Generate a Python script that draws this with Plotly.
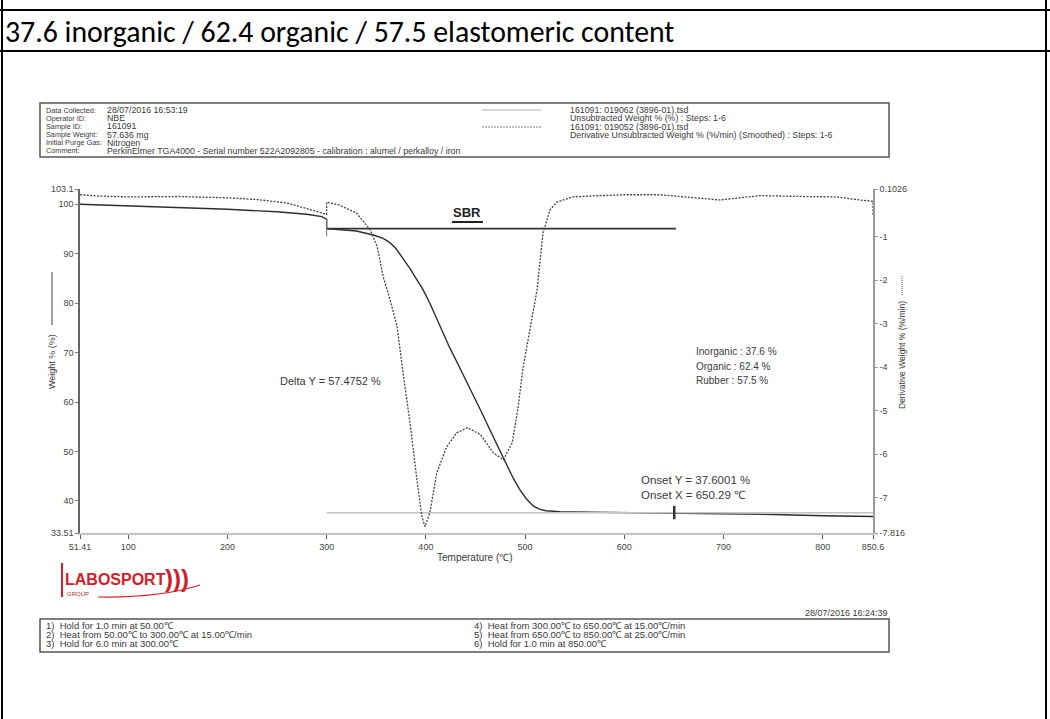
import plotly.graph_objects as go

W, H = 1050, 719

# ---------------- data ----------------
temp_w = [51.41, 100, 150, 200, 250, 280, 295, 300, 300, 310, 330, 347, 357, 364, 370, 377, 384,
          391, 397, 404, 410, 417, 424, 432, 440, 448, 456, 464, 472, 480, 488, 495, 501, 508,
          515, 521, 535, 550, 570, 600, 650, 700, 750, 800, 850.6]
weight = [100.0, 99.7, 99.4, 99.0, 98.5, 98.0, 97.5, 97.0, 95.1, 94.95, 94.6, 93.8, 93.1, 92.2,
          91.0, 89.0, 87.0, 84.7, 82.8, 80.0, 77.2, 74.0, 71.0, 67.8, 64.6, 61.3, 58.0, 54.6,
          51.2, 47.8, 44.6, 42.2, 40.5, 39.0, 38.3, 38.0, 37.8, 37.75, 37.7, 37.65, 37.6, 37.45,
          37.25, 37.0, 36.85]

temp_d = [51.41, 70, 100, 150, 200, 230, 260, 280, 295, 300, 300, 313, 330, 344, 351, 357, 364,
          371, 377, 384, 391, 396, 399, 404, 411, 421, 431, 442, 455, 468, 478, 487, 493, 498,
          503, 512, 518, 525, 532, 548, 565, 600, 636, 669, 696, 716, 737, 780, 814, 837, 850.6,
          850.6]
deriv = [-0.03, -0.06, -0.08, -0.07, -0.10, -0.14, -0.22, -0.35, -0.45, -0.48, -0.20, -0.27,
         -0.45, -0.84, -1.23, -1.92, -2.45, -3.07, -4.13, -5.28, -6.60, -7.44, -7.67, -7.35,
         -6.43, -5.83, -5.51, -5.39, -5.55, -5.97, -6.13, -5.74, -4.91, -3.99, -3.37, -2.22,
         -0.91, -0.38, -0.20, -0.08, -0.06, -0.03, -0.03, -0.10, -0.15, -0.10, -0.05, -0.07,
         -0.08, -0.15, -0.18, -0.50]

delta_T = [300, 652]
delta_W = [95.08, 95.08]
base_T = [300, 850.6]
base_W = [37.6, 37.6]
step_mark_T = [300, 300]
step_mark_W = [97.0, 93.5]
onset_T = [650.29, 650.29]
onset_W = [39.0, 36.3]

x_ticks = [51.41, 100, 200, 300, 400, 500, 600, 700, 800, 850.6]
x_tick_text = ["51.41", "100", "200", "300", "400", "500", "600", "700", "800", "850.6"]
y_ticks = [33.51, 40, 50, 60, 70, 80, 90, 100, 103.1]
y_tick_text = ["33.51", "40", "50", "60", "70", "80", "90", "100", "103.1"]
y2_ticks = [-7.816, -7, -6, -5, -4, -3, -2, -1, 0.1026]
y2_tick_text = ["-7.816", "-7", "-6", "-5", "-4", "-3", "-2", "-1", "0.1026"]

title_text = "37.6 inorganic / 62.4 organic / 57.5 elastomeric content"
header_labels = ["Data Collected:", "Operator ID:", "Sample ID:", "Sample Weight:",
                 "Initial Purge Gas:", "Comment:"]
header_values = ["28/07/2016 16:53:19", "NBE", "161091", "57.636 mg", "Nitrogen",
                 "PerkinElmer TGA4000 - Serial number 522A2092805 - calibration : alumel / perkalloy / iron"]
legend_texts = ["161091: 019062 (3896-01).tsd", "Unsubtracted Weight % (%) : Steps: 1-6",
                "161091: 019052 (3896-01).tsd",
                "Derivative Unsubtracted Weight % (%/min) (Smoothed) : Steps: 1-6"]
results = ["Inorganic : 37.6 %", "Organic : 62.4 %", "Rubber : 57.5 %"]
onset_lines = ["Onset Y = 37.6001 %", "Onset X = 650.29 \u2103"]
steps_left = ["1)  Hold for 1.0 min at 50.00\u2103",
              "2)  Heat from 50.00\u2103 to 300.00\u2103 at 15.00\u2103/min",
              "3)  Hold for 6.0 min at 300.00\u2103"]
steps_right = ["4)  Heat from 300.00\u2103 to 650.00\u2103 at 15.00\u2103/min",
               "5)  Heat from 650.00\u2103 to 850.00\u2103 at 25.00\u2103/min",
               "6)  Hold for 1.0 min at 850.00\u2103"]

# ---------------- helpers ----------------
def fx(p):
    return p / W

def fy(p):
    return 1 - p / H

FONT = "Liberation Sans, Arial, sans-serif"
TXT = "#3a3a3a"

fig = go.Figure()

fig.add_trace(go.Scatter(x=temp_w, y=weight, mode="lines",
                         line=dict(color="#2e2e2e", width=1.4), yaxis="y", hoverinfo="skip"))
fig.add_trace(go.Scatter(x=temp_d, y=deriv, mode="lines",
                         line=dict(color="#444444", width=1.3, dash="2px,1.4px"),
                         yaxis="y2", hoverinfo="skip"))
fig.add_trace(go.Scatter(x=delta_T, y=delta_W, mode="lines",
                         line=dict(color="#333333", width=1.6), yaxis="y", hoverinfo="skip"))
fig.add_trace(go.Scatter(x=base_T, y=base_W, mode="lines",
                         line=dict(color="#c4c4c4", width=1.6), yaxis="y", hoverinfo="skip"))
fig.add_trace(go.Scatter(x=step_mark_T, y=step_mark_W, mode="lines",
                         line=dict(color="#777777", width=1), yaxis="y", hoverinfo="skip"))
fig.add_trace(go.Scatter(x=onset_T, y=onset_W, mode="lines",
                         line=dict(color="#333333", width=2.5), yaxis="y", hoverinfo="skip"))

tickfont = dict(family=FONT, size=9, color="#444444")
fig.update_layout(
    autosize=True, margin=dict(l=0, r=0, t=0, b=0, autoexpand=False),
    paper_bgcolor="white", plot_bgcolor="white", showlegend=False,
    xaxis=dict(domain=[fx(80), fx(873)], range=[51.41, 850.6], tickvals=x_ticks,
               ticktext=x_tick_text, showgrid=False, zeroline=False, showline=True,
               linecolor="#c2c2c2", linewidth=1.5, ticks="outside", ticklen=4,
               tickcolor="#555555", tickfont=tickfont, anchor="y"),
    yaxis=dict(domain=[fy(533), fy(189)], range=[33.51, 103.1], tickvals=y_ticks,
               ticktext=y_tick_text, showgrid=False, zeroline=False, showline=True,
               linecolor="#666666", linewidth=1.5, ticks="outside", ticklen=3,
               tickcolor="#777777", tickfont=tickfont, anchor="x"),
    yaxis2=dict(range=[-7.816, 0.1026], overlaying="y", side="right", tickvals=y2_ticks,
                ticktext=y2_tick_text, showgrid=False, zeroline=False, showline=True,
                linecolor="#9a9a9a", linewidth=1.5, ticks="outside", ticklen=3,
                tickcolor="#999999", tickfont=tickfont, anchor="x"),
)

ann = []
shapes = []

def text(x, y, s, size=9, anchor="left", color=TXT, family=FONT, angle=0, valign="middle"):
    ann.append(dict(x=fx(x), y=fy(y), xref="paper", yref="paper", text=s, showarrow=False,
                    xanchor=anchor, yanchor=valign, textangle=angle, borderpad=0,
                    align="left", font=dict(family=family, size=size, color=color)))

def line(x0, y0, x1, y1, color="#000", width=1, dash=None):
    d = dict(type="line", xref="paper", yref="paper", x0=fx(x0), y0=fy(y0), x1=fx(x1),
             y1=fy(y1), line=dict(color=color, width=width))
    if dash:
        d["line"]["dash"] = dash
    shapes.append(d)

# document frame
line(0, 10, 1050, 10, "#000", 2)
line(0, 51, 1050, 51, "#000", 2)
line(2, 0, 2, 719, "#000", 2)
line(1046, 0, 1046, 719, "#000", 2)
text(4, 32, title_text, size=29.8, family="Calibri, Carlito, Lato, sans-serif", color="#000")

# header box
shapes.append(dict(type="rect", xref="paper", yref="paper", x0=fx(40), y0=fy(157), x1=fx(889),
                   y1=fy(103), line=dict(color="#555", width=1.5)))
for i, (lab, val) in enumerate(zip(header_labels, header_values)):
    yy = 110 + 8.2 * i
    text(45, yy, lab, size=7.3)
    text(106, yy, val, size=8.8)
line(482, 110, 541, 110, "#b0b0b0", 1.2)
line(482, 127, 541, 127, "#808080", 1.2, dash="2px,1px")
for i, s in enumerate(legend_texts):
    text(569, 110 + 8.4 * i, s, size=8.8)

# axis titles
text(475, 557, "Temperature (\u2103)", size=10, anchor="center")
text(52, 362, "Weight % (%)", size=9, anchor="center", angle=-90)
line(52, 272, 52, 325, "#444", 1)
text(902, 355, "Derivative Weight % (%/min)", size=8.5, anchor="center", angle=-90)
line(902, 276, 902, 296, "#555", 1, dash="1px,1px")

# chart annotations
text(467, 213, "<b>SBR</b>", size=13, anchor="center", color="#222")
line(452, 222, 483, 222, "#222", 2)
text(330, 381, "Delta Y = 57.4752 %", size=11, anchor="center")
for i, s in enumerate(results):
    text(695, 352 + 14 * i, s, size=10)
text(640, 487, "<br>".join(onset_lines), size=11.5)

# logo
line(62, 563, 62, 597, "#d0212a", 2)
text(64, 579, "<b>LABOSPORT</b>", size=16, color="#d0212a")
text(164, 578, "<b>)))</b>", size=24, color="#d0212a")
text(66, 594, "GROUP", size=6, color="#b03030")
shapes.append(dict(type="path", xref="paper", yref="paper",
                   path=f"M {fx(98)},{fy(597)} Q {fx(160)},{fy(598)} {fx(200)},{fy(585)}",
                   line=dict(color="#d0212a", width=1.2)))

# date and footer box
text(889, 613, "28/07/2016 16:24:39", size=9, anchor="right")
shapes.append(dict(type="rect", xref="paper", yref="paper", x0=fx(40), y0=fy(652), x1=fx(889),
                   y1=fy(619), line=dict(color="#555", width=1.5)))
for i, s in enumerate(steps_left):
    text(45, 625 + 9 * i, s, size=9.5)
for i, s in enumerate(steps_right):
    text(473, 625 + 9 * i, s, size=9.5)

fig.update_layout(annotations=ann, shapes=shapes)

fig.write_html("out.html", config={"displayModeBar": False},
               default_width="1050px;position:absolute;left:0;top:0",
               default_height="719px",
               post_script="document.body.style.margin='0';document.body.style.overflow='hidden';")
